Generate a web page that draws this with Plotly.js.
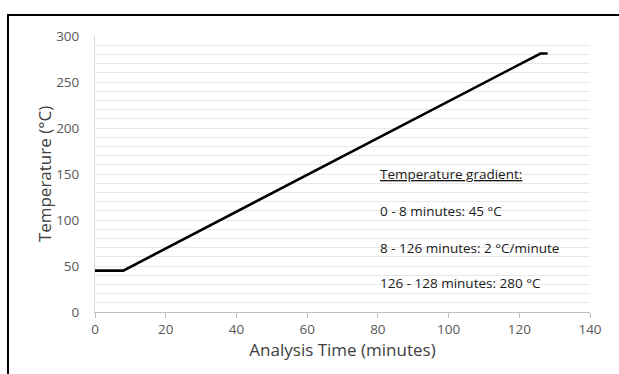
<!DOCTYPE html>
<html>
<head>
<meta charset="utf-8">
<script src="https://cdn.plot.ly/plotly-3.0.1.min.js"></script>
<style>
html,body{margin:0;padding:0;background:#fff;}
#chart{width:619px;height:374px;}
</style>
</head>
<body>
<div id="chart"></div>
<script>
// Data
var timeMinutes = [0, 8, 126, 128];
var temperatureC = [45, 45, 281, 281];
var xTickValues = [0, 20, 40, 60, 80, 100, 120, 140];
var yTickValues = [0, 50, 100, 150, 200, 250, 300];
var noteLines = [
  "<u>Temperature gradient:</u>",
  "0 - 8 minutes: 45 °C",
  "8 - 126 minutes: 2 °C/minute",
  "126 - 128 minutes: 280 °C"
];
var noteY = [150, 110, 70, 31];

var FONT = "Open Sans, Lato, sans-serif";

var trace = {
  x: timeMinutes,
  y: temperatureC,
  type: "scatter",
  mode: "lines",
  line: {color: "#000000", width: 2.6},
  hoverinfo: "skip",
  showlegend: false
};

var annotations = noteLines.map(function (t, i) {
  return {
    x: 80, y: noteY[i], xref: "x", yref: "y",
    text: t, showarrow: false,
    xanchor: "left", yanchor: "middle",
    font: {family: FONT, size: 13.5, color: "#1a1a1a"}
  };
});

var layout = {
  width: 619, height: 374,
  margin: {l: 95, r: 29, t: 36, b: 62},
  paper_bgcolor: "#ffffff",
  plot_bgcolor: "#ffffff",
  showlegend: false,
  xaxis: {
    range: [0, 140],
    tickvals: xTickValues,
    ticks: "outside", ticklen: 5, tickcolor: "#bfbfbf", tickwidth: 1,
    showline: true, linecolor: "#bfbfbf", linewidth: 1,
    showgrid: false, zeroline: false,
    tickfont: {family: FONT, size: 13.5, color: "#595959"},
    title: {text: "Analysis Time (minutes)", standoff: 6,
            font: {family: FONT, size: 17, color: "#404040"}}
  },
  yaxis: {
    range: [0, 300],
    tickvals: yTickValues,
    ticks: "", ticklabelstandoff: 12,
    showline: true, linecolor: "#d9d9d9", linewidth: 1,
    showgrid: false, zeroline: false,
    minor: {dtick: 10, showgrid: true, gridcolor: "#e8e8e8", gridwidth: 1},
    tickfont: {family: FONT, size: 13.5, color: "#595959"},
    title: {text: "Temperature (°C)", standoff: 0,
            font: {family: FONT, size: 17, color: "#404040"}}
  },
  annotations: annotations,
  shapes: [{
    type: "path", xref: "paper", yref: "paper",
    path: "M -0.1758,-0.3 L -0.1758,1.076 L 1.2,1.076",
    line: {color: "#000000", width: 2}
  }]
};

Plotly.newPlot("chart", [trace], layout, {staticPlot: true, displayModeBar: false});
</script>
</body>
</html>
